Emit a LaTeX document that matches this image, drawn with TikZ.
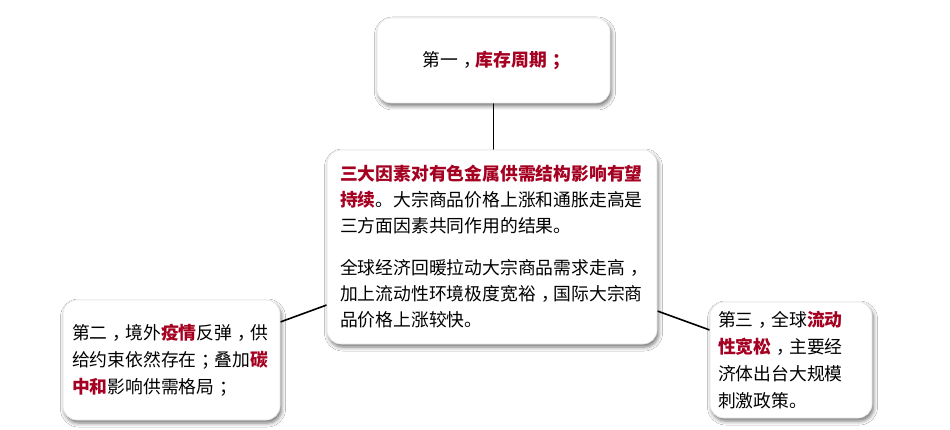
\documentclass[tikz,border=0pt]{standalone}
\usepackage{fontspec}
\setmainfont{Noto Sans CJK SC}
\usetikzlibrary{shadows.blur,backgrounds}
\definecolor{hl}{RGB}{165,0,33}
\newcommand{\hlt}[1]{{\bfseries\color{hl}#1}}
\newcommand{\cm}{\kern0.3em\makebox[0.7em][l]{，}}
\newcommand{\sm}{\kern0.3em\makebox[0.7em][l]{；}}
\begin{document}
\begin{tikzpicture}[x=1pt,y=-1pt,
  box/.style={rounded corners=14pt, fill=white, draw=black!10, line width=0.6pt,
    blur shadow={shadow xshift=1.5pt, shadow yshift=-3pt, shadow blur radius=4pt, shadow opacity=55},
    font=\fontsize{17.8pt}{27pt}\selectfont, align=left, inner xsep=10pt, inner ysep=0pt},
  link/.style={line width=1.6pt, black}]
\useasboundingbox (0,0) rectangle (950,430);

\node[box, minimum width=233pt, minimum height=85pt, align=center] (top) at (493.5,60.5)
  {第一\cm\hlt{库存周期\sm}};

\node[box, text width=304pt, inner xsep=13pt, minimum height=194pt,
  font=\fontsize{17.8pt}{26pt}\selectfont] (center) at (492,247)
  {\hlt{三大因素对有色金属供需结构影响有望}\\
   \hlt{持续}。大宗商品价格上涨和通胀走高是\\
   三方面因素共同作用的结果。\\[16pt]
   全球经济回暖拉动大宗商品需求走高\cm\\
   加上流动性环境极度宽裕\cm 国际大宗商\\
   品价格上涨较快。};

\node[box, text width=199pt, inner xsep=9pt, minimum height=120pt] (left) at (171.5,360)
  {第二\cm 境外\hlt{疫情}反弹\cm 供\\
   给约束依然存在\sm 叠加\hlt{碳}\\
   \hlt{中和}影响供需格局\sm};

\node[box, text width=146pt, inner xsep=8pt, minimum height=116pt] (right) at (791,360)
  {第三\cm 全球\hlt{流动}\\
   \hlt{性宽松}\cm 主要经\\
   济体出台大规模\\
   刺激政策。};

\begin{pgfonlayer}{background}
  \fill[white] (0,0) rectangle (950,430);
  \draw[link] (top.south) -- (top.south |- center.north);
  \draw[link] ([yshift=38pt]left.east) -- ([yshift=-58pt]center.west);
  \draw[link] ([yshift=-64pt]center.east) -- ([yshift=30pt]right.west);
\end{pgfonlayer}
\end{tikzpicture}
\end{document}
